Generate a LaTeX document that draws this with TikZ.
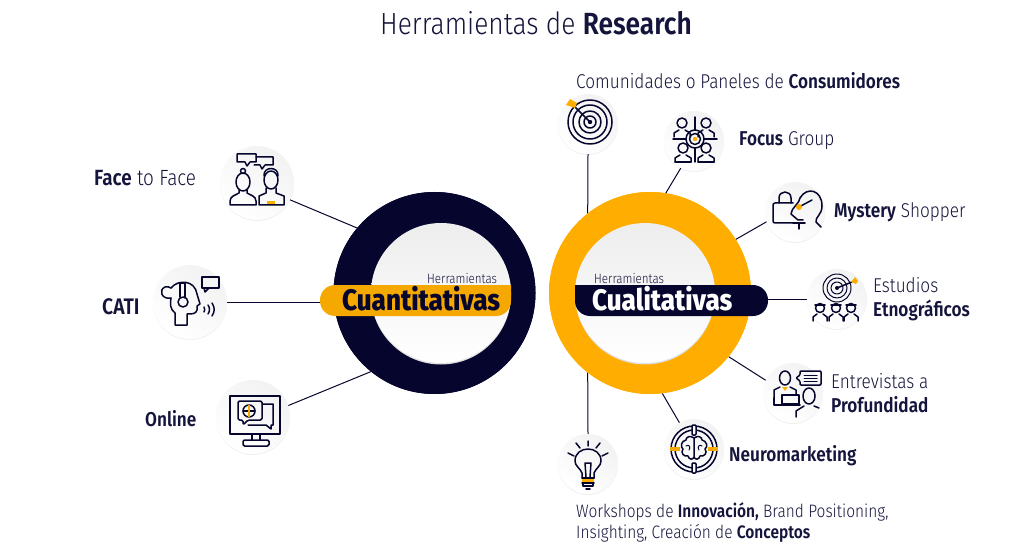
\documentclass[tikz,border=0pt]{standalone}
\usepackage{fontspec}
\setmainfont{Fira Sans Light}[BoldFont={Fira Sans SemiBold},FakeStretch=0.86]
\newfontfamily\heavyfont{Fira Sans ExtraBold}[FakeStretch=0.88]
\definecolor{navy}{HTML}{05052E}
\definecolor{txtblue}{HTML}{14143C}
\definecolor{ringorange}{HTML}{FFAD00}
\definecolor{barorange}{HTML}{F5A800}
\tikzset{
lbl/.style={anchor=base west,inner sep=0pt,text=txtblue,font=\fontsize{20}{24}\selectfont},
toolbg/.style={circle,inner sep=0pt,minimum size=#1,shade,top color=black!5,bottom color=white,shading angle=-35},
toolbg/.default=60pt,
link/.style={draw=navy,line width=1pt},
ringq/.style={circle,inner sep=0pt,minimum size=202pt,fill=navy},
ringc/.style={circle,inner sep=0pt,minimum size=202pt,fill=ringorange},
hole/.style={circle,inner sep=0pt,minimum size=140pt,shade,top color=black!7,bottom color=white},
icon/.style={draw=navy,line width=1.5pt,line cap=round,line join=round},
dotorange/.style={fill=ringorange,draw=none},
pics/faceicon/.style={code={
\draw[icon](-20,-29)--(-1,-29)--(-1,-21)--(-7,-21)--(-10,-17)--(-12,-21)--(-20,-21)--cycle;
\draw[icon](-1,-26)--(16,-26)--(16,-18)--(8,-18)--(5,-14)--(3,-18)--(-3,-18);
\draw[icon](-14,-1)ellipse(7 and 9);\draw[icon](-14,-12)circle(2.5);
\draw[icon](-18,7)--(-18,10)..controls(-21,12)and(-27,13)..(-27,18)--(-27,22)--(-1,22)--(-1,18)..controls(-1,13)and(-7,12)..(-10,10)--(-10,7);
\draw[icon](14,-3)ellipse(7 and 9);\draw[icon](7,-7)..controls(6,-17)and(22,-17)..(21,-7);
\draw[icon](9,5)--(9,10)--(2,13)--(2,22)--(27,22)--(27,13)--(19,10)--(19,5);
\fill[dotorange](10,18)rectangle(18,21);
}},
pics/catiicon/.style={code={
\draw[icon](12,-25)rectangle(29,-14);\draw[icon](14,-14)--(15,-10)--(19,-14);
\draw[icon](-19,-4)..controls(-28,-2)and(-32,-12)..(-25,-15)..controls(-23,-16)and(-21,-15)..(-19,-14);
\draw[icon](-19,-14)..controls(-12,-23)and(5,-22)..(7,-8)--(10,2)--(7,4)--(7,8)..controls(6,12)and(2,12)..(-3,12)--(-3,23)--(-15,23)--(-15,11)..controls(-20,7)and(-20,2)..(-19,-4);
\draw[icon](-7,0)circle(5);\draw[icon](-10,-5)--(-10,-19)--(-5,-19)--(-5,-5);
\draw[icon](14,5)..controls(15,7)and(15,8)..(14,10);\draw[icon](18,3)..controls(20,6)and(20,9)..(18,12);\draw[icon](22,1)..controls(25,6)and(25,9)..(22,14);
}},
pics/onlineicon/.style={code={
\draw[icon](-23,-21)rectangle(27,17);\draw[icon](-1,17)--(-1,23)(7,17)--(7,23);
\draw[icon,rounded corners=1.5](-10,23)rectangle(16,29);
\draw[icon,rounded corners=1.5](-15,-16)--(9,-16)--(9,3)--(-5,3)--(-10,8)--(-10,3)--(-15,3)--cycle;
\draw[icon](9,-13)--(20,-13)--(20,8)--(18,8)--(18,12)--(13,8)--(-5,8);
\draw[icon](-4,-6)circle(6);\draw[icon](-10,-6)--(2,-6);\draw[line width=1.5pt,barorange](-4,-12)--(-4,0);
}},
pics/panelicon/.style={code={
\foreach \r in {22,17,11,6}{\draw[icon](2,-2)circle(\r);}
\fill[navy](2,-2)circle(2.2);
\draw[icon](2,-2)--(-13,-17);
\fill[dotorange](-13,-16)--(-22,-19)--(-18,-25)--(-11,-21)--cycle;
}},
pics/focusicon/.style={code={
\draw[icon](1,-24)--(1,-11)(1,7)--(1,21)(-21,-2)--(-8,-2)(10,-2)--(23,-2);
\draw[icon](1,-2)circle(9);\draw[icon](1,-2)circle(5.5);\fill[dotorange](1,-2)circle(2.2);
\foreach \x/\y in {-12/-18,12/-18,-11/7,12/7}{
\draw[icon](\x,\y)circle(5);
\draw[icon](\x-8,\y+14)--(\x-8,\y+10)--(\x-3,\y+7)(\x+3,\y+7)--(\x+8,\y+10)--(\x+8,\y+14);}
\draw[icon](-19,21)--(-3,21)(4,21)--(20,21);
}},
pics/mysteryicon/.style={code={
\draw[icon,rounded corners=2](-2,11)--(-22,11)--(-22,-9)--(-2,-9);
\draw[icon](-16,-9)--(-16,-14)..controls(-16,-22)and(-4,-22)..(-4,-14)--(-4,-9);
\draw[icon](5,-14)..controls(12,-26)and(27,-22)..(27,-6)..controls(27,3)and(20,5)..(21,10)--(26,15);
\draw[icon](5,-14)..controls(5,-9)and(-4,-4)..(-4,2)--(3,8)--(8,8);
\draw[icon](-2,11)--(10,11)(4,11)--(4,17);
\draw[icon](4,-5)--(17,-12);
\fill[dotorange](4,-5)circle(3);
}},
pics/etnoicon/.style={code={
\foreach \r in {14,10,6}{\draw[icon,line width=1pt](0,-11)circle(\r);}
\fill[navy](0,-11)circle(2);
\draw[icon](0,-11)--(15,-17);
\fill[dotorange](14,-17)--(18,-22)--(21,-18)--(19,-15)--cycle;
\foreach \x in {-17,-1,14}{
\draw[icon](\x,9)circle(4.5);\draw[icon](\x-5,6)--(\x+5,6);
\draw[icon](\x-7,22)--(\x-7,18)--(\x-3,15)(\x+3,15)--(\x+7,18)--(\x+7,22);}
}},
pics/intervicon/.style={code={
\draw[icon](-8,-15)ellipse(5.5 and 7);
\draw[icon](-19,5)--(-19,-3)--(-13,-6)(-3,-6)--(3,-3)--(3,2);
\draw[icon](-14,12)--(-19,12)--(-19,5);
\fill[dotorange](-11,-6)--(-5,-6)--(-8,-2)--cycle;
\draw[icon](-11,2)rectangle(6,11);\draw[icon](-14,12)--(7,12);
\draw[icon,rounded corners=1](7,-22)--(28,-22)--(28,-8)--(7,-8)--(7,-12)--(3,-15)--(7,-18)--cycle;
\draw[icon,line width=1pt](11,-18)--(24,-18)(11,-15)--(24,-15)(11,-12)--(24,-12);
\draw[icon](16,3)ellipse(6 and 8);
\draw[icon](3,24)--(3,18)--(11,13)(21,13)--(26,15);
}},
pics/neuroicon/.style={code={
\draw[icon](0,0)circle(23);\draw[icon](0,0)circle(19);
\draw[fill=white,icon,rounded corners=1](-2,-24)rectangle(2,-14);
\draw[fill=white,icon,rounded corners=1](-2,14)rectangle(2,24);
\draw[line width=3.5pt,barorange](-24,0)--(-14,0);\draw[line width=3.5pt,barorange](14,0)--(24,0);
\draw[icon](0,-11)..controls(-4,-14)and(-8,-12)..(-8,-9)..controls(-13,-8)and(-14,-2)..(-11,0)..controls(-14,4)and(-10,8)..(-6,7)..controls(-5,11)and(-1,11)..(0,8)..controls(1,11)and(5,11)..(6,7)..controls(10,8)and(14,4)..(11,0)..controls(14,-2)and(13,-8)..(8,-9)..controls(8,-12)and(4,-14)..(0,-11)--(0,8);
\draw[icon,line width=1pt](-8,-3)..controls(-5,-5)and(-3,-2)..(-5,1)(8,-3)..controls(5,-5)and(3,-2)..(5,1);
}},
pics/ideaicon/.style={code={
\draw[icon](0,-23)--(0,-18)(-12,-21)--(-8,-16)(12,-21)--(8,-16)(-20,-11)--(-14,-8)(20,-11)--(14,-8);
\draw[icon](-6,14)--(-6,9)..controls(-8,4)and(-13,2)..(-13,-3)..controls(-13,-19)and(13,-19)..(13,-3)..controls(13,2)and(8,4)..(6,9)--(6,14);
\draw[icon](-2,13)--(-3,-1)--(3,-1)--(2,13);
\fill[dotorange](-6,15)rectangle(6,18.5);
\draw[icon](-6,14)--(6,14)(-6,19)--(6,19);
\draw[icon](-5,19)--(-5,22)--(5,22)--(5,19)(-2,25)--(2,25);
}}
}
\begin{document}
\begin{tikzpicture}[x=1pt,y=-1pt]
\useasboundingbox(0,0)rectangle(1024,553);
\node[ringq](qring)at(434.5,293){};
\node[ringc](cring)at(650,293){};
\foreach \n/\x/\y/\s in {face/257/183/74pt,cati/190/302/74pt,web/253/417/74pt,panel/588/124/60pt,focus/694/141/60pt,myst/795/212/60pt,etno/837/299/60pt,interv/793/393/60pt,neuro/694/449/60pt,idea/588/464/60pt}{
\fill[black!6](\x,\y+1)circle({\s/2});
\node[toolbg=\s](\n)at(\x,\y){};}
\path[link](face.-27)--(qring.140);
\path[link](web.18)--(qring.231);
\path[link](panel.south)--(cring.128);
\path[link](idea.north)--(cring.232);
\path[link](focus.-116)--(cring.81);
\path[link](myst.199)--(cring.32);
\path[link](interv.155)--(cring.-39);
\path[link](neuro.119)--(cring.-83);
\node[ringq](qringtop)at(434.5,293){};
\node[ringc](cringtop)at(650,293){};
\fill[black!12](441,294.5)circle(70);
\fill[black!12](645,294.5)circle(70);
\node[hole](qhole)at(441,293){};
\node[hole](chole)at(645,293){};
\path[fill=barorange,rounded corners=15pt](511,285)--(320,285)--(320,316)--(511,316)[sharp corners]--cycle;
\path[fill=navy,rounded corners=15pt](575,285)--(768,285)--(768,316)--(575,316)[sharp corners]--cycle;
\coordinate(qbar)at(320,302);
\coordinate(cbar)at(768,299);
\path[link](cati.east)--(qbar);
\path[link](cbar)--(etno.west);
\pic at(face){faceicon};
\pic at(cati){catiicon};
\pic at(web){onlineicon};
\pic at(panel){panelicon};
\pic at(focus){focusicon};
\pic at(myst){mysteryicon};
\pic at(etno){etnoicon};
\pic at(interv){intervicon};
\pic at(neuro){neuroicon};
\pic at(idea){ideaicon};
\node[lbl,font=\fontsize{30.6}{32}\selectfont](title)at(380,34.5){Herramientas de \textbf{Research}};
\node[lbl,font=\fontsize{13.5}{16}\selectfont](qsub)at(427,283){Herramientas};
\node[lbl,font=\fontsize{13.5}{16}\selectfont](csub)at(594,283){Herramientas};
\node[lbl,text=navy,font=\fontsize{29.6}{30}\heavyfont](qname)at(342,310){Cuantitativas};
\node[lbl,text=white,font=\fontsize{29.6}{30}\heavyfont](cname)at(592,310){Cualitativas};
\node[lbl,font=\fontsize{22}{24}\selectfont](tface)at(94,186){\textbf{Face} to Face};
\node[lbl,font=\fontsize{22.5}{24}\selectfont](tcati)at(102,314){\textbf{CATI}};
\node[lbl](tweb)at(145,426){\textbf{Online}};
\node[lbl](tpanel)at(576,89){Comunidades o Paneles de \textbf{Consumidores}};
\node[lbl](tfocus)at(739,146){\textbf{Focus} Group};
\node[lbl](tmyst)at(834,218){\textbf{Mystery} Shopper};
\node[lbl](tetno)at(873,292){Estudios};
\node[lbl](tetnob)at(873,316){\textbf{Etnográficos}};
\node[lbl](tint)at(831,388){Entrevistas a};
\node[lbl](tintb)at(831,412){\textbf{Profundidad}};
\node[lbl](tneuro)at(729,461){\textbf{Neuromarketing}};
\node[lbl,font=\fontsize{18}{22}\selectfont](tidea)at(576,517){Workshops de \textbf{Innovación,} Brand Positioning,};
\node[lbl,font=\fontsize{18}{22}\selectfont](tideab)at(576,538){Insighting, Creación de \textbf{Conceptos}};
\end{tikzpicture}
\end{document}
